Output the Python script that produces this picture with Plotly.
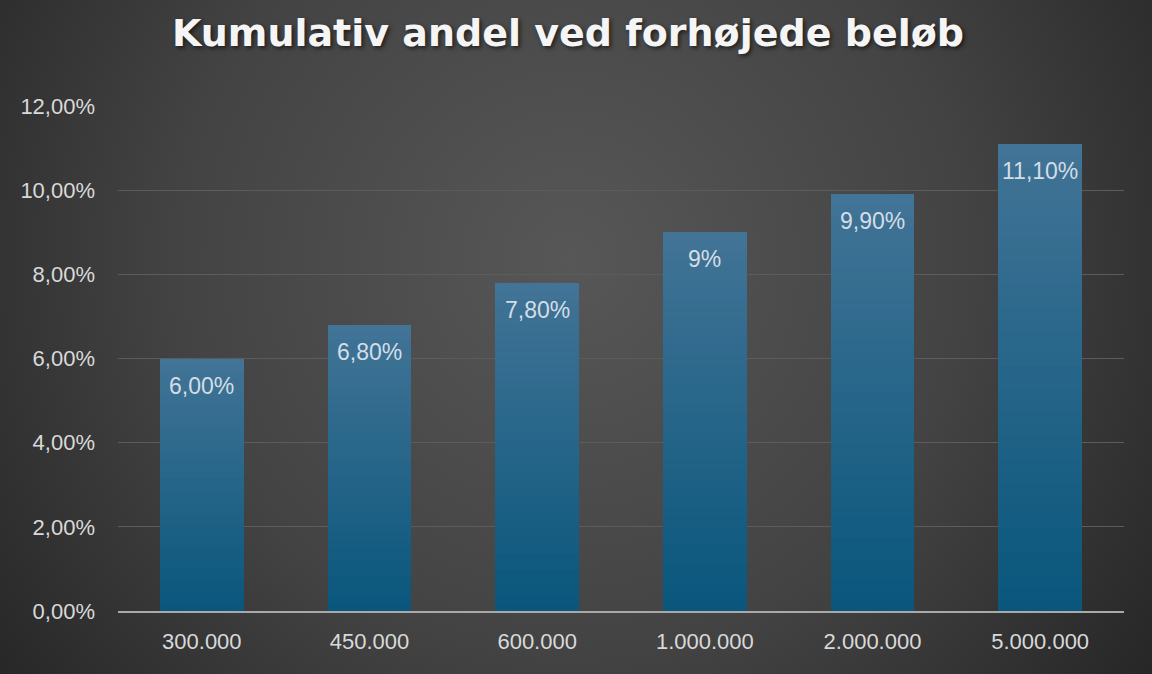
import base64
import plotly.graph_objects as go

# ---- data ----
categories = ["300.000", "450.000", "600.000", "1.000.000", "2.000.000", "5.000.000"]
values = [6.0, 6.8, 7.8, 9.0, 9.9, 11.1]
value_labels = ["6,00%", "6,80%", "7,80%", "9%", "9,90%", "11,10%"]
y_tickvals = [0, 2, 4, 6, 8, 10, 12]
y_ticktext = ["0,00%", "2,00%", "4,00%", "6,00%", "8,00%", "10,00%", "12,00%"]
title_text = "Kumulativ andel ved forhøjede beløb"

W, H = 1152, 674
L, R, T, B = 118, 28, 106, 63
pw, ph = W - L - R, H - T - B

# ---- background radial gradient ----
svg = f'''<svg xmlns="http://www.w3.org/2000/svg" width="{W}" height="{H}" viewBox="0 0 {W} {H}">
<defs><radialGradient id="g" gradientUnits="userSpaceOnUse" cx="570" cy="260" r="720">
<stop offset="0" stop-color="#575757"/><stop offset="0.55" stop-color="#434343"/><stop offset="1" stop-color="#262626"/>
</radialGradient></defs>
<rect x="0" y="0" width="{W}" height="{H}" fill="url(#g)"/>
</svg>'''
bg_src = "data:image/svg+xml;base64," + base64.b64encode(svg.encode()).decode()

fig = go.Figure()

# ---- bars with vertical gradient (stacked slices) ----
N = 40
top_c = (66, 116, 150)
bot_c = (9, 86, 124)
for k in range(N):
    t = (k + 0.5) / N
    c = tuple(round(bot_c[i] + (top_c[i] - bot_c[i]) * t) for i in range(3))
    fig.add_trace(go.Bar(
        x=categories, y=[v / N for v in values],
        marker=dict(color=f"rgb{c}", line=dict(width=0)),
        showlegend=False, hoverinfo="skip",
    ))

annotations = []
for i, (v, lab) in enumerate(zip(values, value_labels)):
    annotations.append(dict(
        x=i, y=v, xref="x", yref="y", text=lab, showarrow=False,
        yanchor="middle", yshift=-27,
        font=dict(family="Liberation Sans, Arial", size=23, color="#d3dde6"),
    ))

fig.update_layout(
    width=W, height=H,
    margin=dict(l=L, r=R, t=T, b=B),
    barmode="stack", bargap=0.5,
    paper_bgcolor="#3a3a3a", plot_bgcolor="rgba(0,0,0,0)",
    title=dict(
        text=title_text, x=568 / W, xanchor="center", y=1 - 33 / H, yanchor="middle",
        font=dict(family="DejaVu Sans", size=38, color="#f5f5f5", weight="bold",
                  shadow="2px 2px 4px rgba(0,0,0,0.6)"),
    ),
    images=[dict(
        source=bg_src, xref="paper", yref="paper",
        x=-L / pw, y=(H - B) / ph, sizex=W / pw, sizey=H / ph,
        xanchor="left", yanchor="top", sizing="stretch", layer="below",
    )],
    xaxis=dict(
        type="category", range=[-0.5, len(categories) - 0.5],
        showgrid=False, showline=True, linecolor="#a9a9a9", linewidth=2,
        ticks="", tickfont=dict(family="Liberation Sans, Arial", size=22, color="#d9d9d9"),
        ticklabelstandoff=10,
    ),
    yaxis=dict(
        range=[0, 12], tickvals=y_tickvals, ticktext=y_ticktext,
        showgrid=True, gridcolor="#5c5c5c", gridwidth=1, zeroline=False,
        showline=False, ticks="",
        tickfont=dict(family="Liberation Sans, Arial", size=22, color="#d9d9d9"),
        ticklabelstandoff=22,
    ),
    annotations=annotations,
)

fig.write_html("out.html")
